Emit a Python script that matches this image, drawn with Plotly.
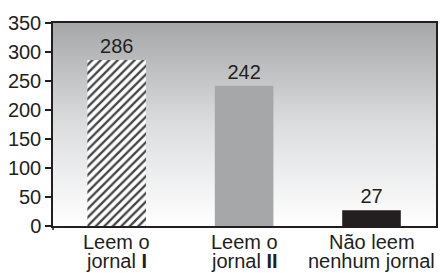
import base64
import plotly.graph_objects as go

categories = ["Leem o jornal I", "Leem o jornal II", "Não leem nenhum jornal"]
label_line1 = ["Leem o", "Leem o", "Não leem"]
label_line2 = ["jornal <b>I</b>", "jornal <b>II</b>", "nenhum jornal"]
values = [286, 242, 27]
y_ticks = [0, 50, 100, 150, 200, 250, 300, 350]

FONT = "Liberation Sans, Arial, sans-serif"

svg = ('<svg xmlns="http://www.w3.org/2000/svg" width="100" height="100" preserveAspectRatio="none">'
       '<defs><linearGradient id="g" x1="0" y1="0" x2="0" y2="1">'
       '<stop offset="0" stop-color="#a6a7a9"/><stop offset="0.5" stop-color="#dcdddf"/>'
       '<stop offset="1" stop-color="#ffffff"/></linearGradient></defs>'
       '<rect width="100" height="100" fill="url(#g)"/></svg>')
bg_src = "data:image/svg+xml;base64," + base64.b64encode(svg.encode()).decode()

fig = go.Figure()
fig.add_trace(go.Bar(
    x=categories, y=values, width=0.46,
    text=[str(v) for v in values], textposition="outside",
    textfont=dict(size=20, color="#231f20", family=FONT),
    cliponaxis=False,
    marker=dict(
        color=["#ffffff", "#a6a7a9", "#231f20"],
        line=dict(width=0),
        pattern=dict(shape=["/", "", ""], fgcolor="#1a1a1a", fgopacity=1,
                     size=6, solidity=0.38, fillmode="overlay"),
    ),
))

annotations = []
for c, l1, l2 in zip(categories, label_line1, label_line2):
    annotations.append(dict(x=c, y=0, xref="x", yref="paper", text=l1, showarrow=False,
                            yanchor="middle", yshift=-16, borderpad=0,
                            font=dict(size=20, family=FONT, color="#231f20")))
    annotations.append(dict(x=c, y=0, xref="x", yref="paper", text=l2, showarrow=False,
                            yanchor="middle", yshift=-35, borderpad=0,
                            font=dict(size=20, family=FONT, color="#231f20")))

fig.add_shape(type="line", xref="paper", yref="paper", x0=0, x1=0, y0=0, y1=-0.02,
              line=dict(color="#231f20", width=1.5))

fig.update_layout(
    width=443, height=273,
    margin=dict(l=53, r=5, t=23, b=47),
    paper_bgcolor="white", plot_bgcolor="rgba(0,0,0,0)",
    showlegend=False, bargap=0.54,
    font=dict(family=FONT, size=20, color="#231f20"),
    images=[dict(source=bg_src, xref="paper", yref="paper", x=0, y=1, sizex=1, sizey=1,
                 sizing="stretch", layer="below", xanchor="left", yanchor="top")],
    annotations=annotations,
    xaxis=dict(showticklabels=False, ticks="", showline=True, linecolor="#231f20",
               linewidth=1.5, mirror=True, showgrid=False, zeroline=False),
    yaxis=dict(range=[0, 350], tickvals=y_ticks, ticks="outside", ticklen=6,
               tickcolor="#231f20", tickwidth=1.5, showline=True, linecolor="#231f20",
               linewidth=1.5, mirror=True, showgrid=False, zeroline=False,
               tickfont=dict(size=20, family=FONT, color="#231f20")),
)

fig.write_html("out.html", config={"displayModeBar": False})
with open("out.html", encoding="utf-8") as f:
    html = f.read()
html = html.replace("<head>", "<head><style>html,body{margin:0;padding:0;overflow:hidden}</style>", 1)
with open("out.html", "w", encoding="utf-8") as f:
    f.write(html)
